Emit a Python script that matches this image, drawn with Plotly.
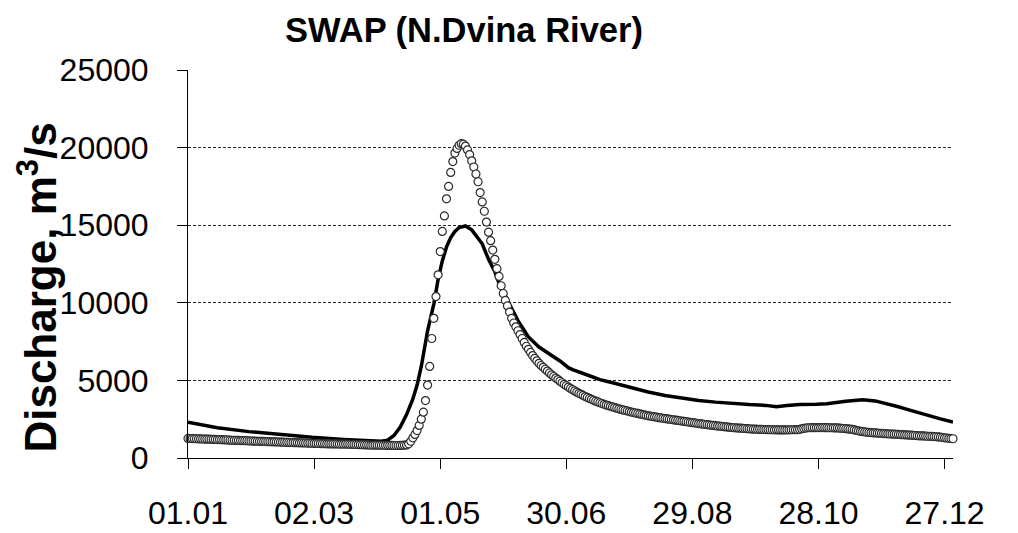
import plotly.graph_objects as go

# ---- data -------------------------------------------------------------
tick_days = [1, 61, 121, 181, 241, 301, 361]
tick_labels = ["01.01", "02.03", "01.05", "30.06", "29.08", "28.10", "27.12"]
y_ticks = [0, 5000, 10000, 15000, 20000, 25000]
y_tick_labels = ["0", "5000", "10000", "15000", "20000", "25000"]

# observed daily discharge (circles), day 1 .. 365
observed = [
    1260, 1255, 1250, 1245, 1240, 1235, 1230, 1225, 1220, 1215,
    1210, 1205, 1200, 1195, 1190, 1185, 1180, 1170, 1165, 1160,
    1150, 1145, 1140, 1135, 1130, 1125, 1120, 1115, 1110, 1100,
    1095, 1090, 1085, 1080, 1075, 1070, 1065, 1060, 1055, 1050,
    1045, 1040, 1035, 1030, 1025, 1020, 1015, 1010, 1005, 1000,
    995, 990, 985, 980, 975, 970, 965, 960, 955, 950,
    945, 940, 935, 930, 925, 920, 915, 915, 910, 910,
    905, 905, 900, 900, 895, 895, 890, 885, 880, 875,
    870, 865, 860, 855, 850, 845, 840, 835, 830, 830,
    825, 825, 820, 820, 815, 815, 810, 810, 805, 805,
    805, 810, 815, 825, 845, 915, 1080, 1300, 1520, 1770,
    2100, 2500, 2950, 3700, 4700, 5900, 7700, 9000, 10400, 11800,
    13300, 14600, 15600, 16700, 17500, 18400, 19100, 19650, 19950, 20150,
    20250, 20220, 20100, 19850, 19550, 19150, 18750, 18300, 17800, 17100,
    16500, 15900, 15200, 14550, 14000, 13400, 12800, 12200, 11700, 11100,
    10600, 10150, 9800, 9400, 9000, 8700, 8450, 8200, 7950, 7700,
    7450, 7200, 7000, 6800, 6600, 6420, 6260, 6100, 5960, 5840,
    5720, 5600, 5480, 5360, 5250, 5150, 5050, 4950, 4850, 4750,
    4660, 4570, 4480, 4400, 4320, 4240, 4170, 4100, 4030, 3960,
    3900, 3840, 3780, 3720, 3660, 3610, 3560, 3510, 3460, 3410,
    3370, 3330, 3290, 3250, 3210, 3170, 3130, 3100, 3060, 3030,
    2990, 2960, 2930, 2900, 2870, 2840, 2810, 2780, 2750, 2720,
    2700, 2670, 2650, 2630, 2600, 2580, 2560, 2540, 2520, 2500,
    2480, 2460, 2440, 2420, 2400, 2380, 2360, 2340, 2320, 2300,
    2280, 2260, 2240, 2220, 2200, 2180, 2160, 2150, 2130, 2110,
    2100, 2080, 2060, 2050, 2030, 2020, 2000, 1990, 1970, 1960,
    1950, 1940, 1930, 1920, 1910, 1900, 1890, 1880, 1870, 1860,
    1855, 1850, 1845, 1840, 1835, 1830, 1825, 1820, 1820, 1815,
    1815, 1810, 1810, 1810, 1810, 1815, 1815, 1820, 1820, 1825,
    1830, 1850, 1880, 1910, 1930, 1950, 1950, 1955, 1955, 1960,
    1960, 1960, 1960, 1955, 1955, 1950, 1950, 1945, 1940, 1935,
    1925, 1915, 1900, 1890, 1875, 1860, 1840, 1810, 1780, 1750,
    1720, 1700, 1680, 1660, 1645, 1635, 1625, 1615, 1605, 1595,
    1585, 1575, 1565, 1555, 1545, 1540, 1535, 1530, 1520, 1510,
    1500, 1495, 1490, 1480, 1470, 1460, 1450, 1440, 1430, 1425,
    1420, 1410, 1400, 1395, 1390, 1380, 1370, 1360, 1340, 1320,
    1300, 1290, 1270, 1250, 1240,
]
obs_days = list(range(1, len(observed) + 1))

# simulated discharge (SWAP, solid line)
sim_days = [1, 15, 30, 45, 60, 75, 88, 93, 96, 99, 102, 105, 108, 110, 112,
            115, 118, 120, 122, 124, 126, 128, 130, 133, 136, 139, 141, 144,
            147, 149, 152, 154, 158, 163, 168, 173, 178, 182, 184, 192, 197,
            203, 211, 220, 228, 236, 244, 252, 260, 268, 276, 281, 286, 292,
            300, 305, 314, 322, 328, 334, 339, 344, 349, 354, 359, 365]
simulated = [2300, 1950, 1700, 1500, 1330, 1200, 1100, 1080, 1150, 1450, 2000,
             2800, 3800, 4700, 5900, 8200, 9950, 11500, 12700, 13600, 14200,
             14600, 14850, 14950, 14700, 14150, 13800, 12800, 12000, 11250,
             10400, 9900, 8850, 7800, 7150, 6700, 6250, 5820, 5690, 5300,
             5050, 4850, 4550, 4250, 4030, 3860, 3710, 3600, 3500, 3440, 3390,
             3300, 3380, 3450, 3460, 3500, 3660, 3750, 3680, 3500, 3300, 3100,
             2890, 2700, 2520, 2310]

FONT = "Arial, Liberation Sans, sans-serif"

fig = go.Figure()
fig.add_trace(go.Scatter(
    x=sim_days, y=simulated, mode="lines", name="SWAP",
    line=dict(color="black", width=3.5), cliponaxis=False,
))
fig.add_trace(go.Scatter(
    x=obs_days, y=observed, mode="markers", name="Observed",
    marker=dict(symbol="circle", size=8, color="white",
                line=dict(color="#2a2a2a", width=1.2)),
    cliponaxis=False,
))

fig.update_layout(
    width=1018, height=533,
    margin=dict(l=188, r=65, t=70, b=75),
    paper_bgcolor="white", plot_bgcolor="white",
    showlegend=False,
    font=dict(family=FONT, color="black"),
    title=dict(text="<b>SWAP (N.Dvina River)</b>", x=464 / 1018, xref="container",
               xanchor="center", y=1 - 30 / 533, yref="container", yanchor="middle",
               font=dict(size=34.5, family=FONT, color="black")),
    xaxis=dict(
        range=[1, 365], tickvals=tick_days, ticktext=tick_labels,
        showgrid=False, zeroline=False, showline=True, linecolor="black",
        linewidth=1, ticks="outside", ticklen=10, tickcolor="black",
        tickwidth=1, tickfont=dict(size=32, family=FONT, color="black"),
        ticklabelstandoff=17, automargin=False,
    ),
    yaxis=dict(
        range=[0, 25000], tickvals=y_ticks, ticktext=y_tick_labels,
        showgrid=True, gridcolor="#222222", gridwidth=1, griddash="3px,2px",
        zeroline=False, showline=True, linecolor="black", linewidth=1,
        ticks="outside", ticklen=10, tickcolor="black", tickwidth=1,
        tickfont=dict(size=32, family=FONT, color="black"),
        ticklabelstandoff=22, automargin=False,
    ),
    annotations=[dict(
        text="<b>Discharge, m<sup>3</sup>/s</b>", textangle=-90,
        xref="paper", yref="paper", x=-0.197, y=0.44,
        xanchor="center", yanchor="middle", showarrow=False,
        font=dict(size=44, family=FONT, color="black"),
    )],
)

fig.write_html("out.html")
